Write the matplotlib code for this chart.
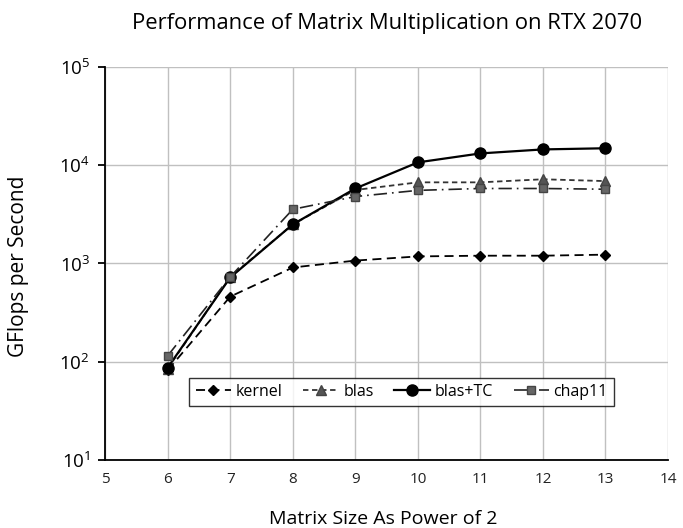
import matplotlib.pyplot as plt

plt.rcParams['font.family'] = ['Open Sans', 'DejaVu Sans']

sizes = [6, 7, 8, 9, 10, 11, 12, 13]
kernel = [82, 460, 910, 1070, 1180, 1200, 1200, 1230]
blas = [85, 730, 2500, 5600, 6700, 6700, 7200, 6900]
blas_tc = [87, 720, 2500, 5800, 10700, 13200, 14500, 14900]
chap11 = [115, 730, 3560, 4800, 5550, 5800, 5800, 5700]

fig = plt.figure(figsize=(6.83, 5.28), dpi=100)
ax = fig.add_axes([0.154, 0.129, 0.824, 0.744])

ax.plot(sizes, kernel, color='black', linestyle=(0, (5, 3)), lw=1.3,
        marker='D', markersize=5, label='kernel')
ax.plot(sizes, blas, color='#333333', linestyle=(0, (3, 2)), lw=1.3,
        marker='^', markersize=7, markerfacecolor='#555555',
        markeredgecolor='#444444', label='blas')
ax.plot(sizes, blas_tc, color='black', linestyle='-', lw=1.6,
        marker='o', markersize=8, label='blas+TC')
ax.plot(sizes, chap11, color='#222222', linestyle=(0, (8, 3, 1, 3)), lw=1.2,
        marker='s', markersize=6, markerfacecolor='#666666',
        markeredgecolor='#444444', label='chap11')

ax.set_yscale('log')
ax.set_xlim(5, 14)
ax.set_ylim(10, 1e5)
ax.set_xticks(range(5, 15))
ax.set_yticks([1e1, 1e2, 1e3, 1e4, 1e5])
ax.minorticks_off()
ax.grid(True, color='#c0c0c0', lw=1)
ax.set_axisbelow(True)
for s in ['top', 'right']:
    ax.spines[s].set_visible(False)
ax.spines['left'].set_linewidth(1.3)
ax.spines['bottom'].set_linewidth(1.3)
ax.tick_params(axis='x', length=0, pad=9, labelsize=11, colors='#222222')
ax.tick_params(axis='y', length=5, width=1.3, labelsize=13.5, pad=6)

ax.set_title('Performance of Matrix Multiplication on RTX 2070', fontsize=15.8,
             y=1.097, pad=0)
ax.set_xlabel('Matrix Size As Power of 2', fontsize=14)
ax.xaxis.set_label_coords(0.494, -0.128)
ax.set_ylabel('GFlops per Second', fontsize=15)
ax.yaxis.set_label_coords(-0.135, 0.494)

leg = ax.legend(loc='center', bbox_to_anchor=(0.527, 0.173), ncol=4, fontsize=11.5,
                frameon=True, fancybox=False, edgecolor='black',
                handlelength=2.2, columnspacing=1.3, handletextpad=0.3,
                borderpad=0.4)
leg.get_frame().set_linewidth(1.0)

fig.savefig('out.png', dpi=100)
